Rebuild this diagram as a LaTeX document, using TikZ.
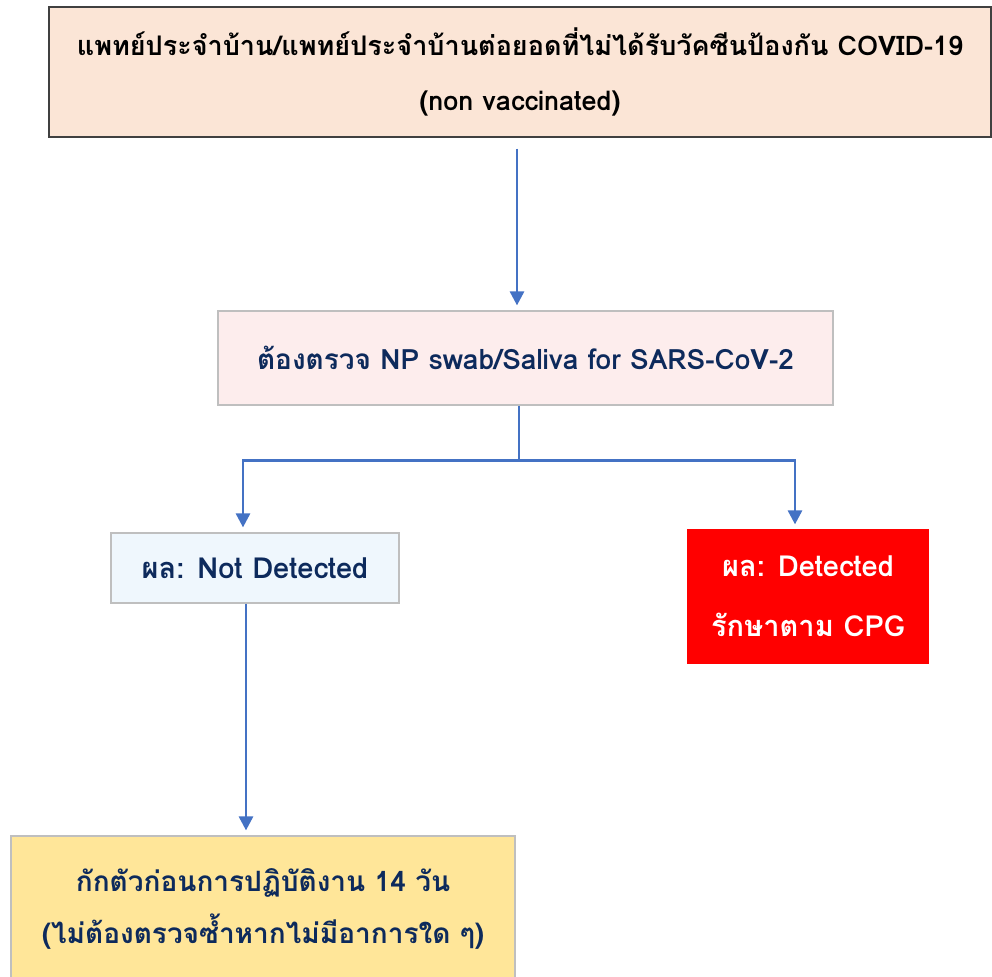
\documentclass[tikz,border=0pt]{standalone}
\usepackage{fontspec}
\setmainfont[Script=Thai]{Loma}
\usetikzlibrary{arrows.meta,calc}
\definecolor{peach}{HTML}{FBE5D6}
\definecolor{pinkbg}{HTML}{FDEDED}
\definecolor{bluebg}{HTML}{EFF7FD}
\definecolor{goldbg}{HTML}{FFE699}
\definecolor{navy}{HTML}{0D2A5C}
\definecolor{conncol}{HTML}{4472C4}
\definecolor{boxline}{HTML}{BFBFBF}
\begin{document}
\begin{tikzpicture}[x=1pt,y=-1pt,
  box/.style={draw=boxline,line width=1.2pt,rectangle,inner sep=0pt,align=center,text=navy,font=\fontsize{28}{52}\selectfont\bfseries},
  conn/.style={draw=conncol,line width=2.8pt},
  arr/.style={conn,-{Triangle[width=14pt,length=14pt]},shorten >=5pt}]
\useasboundingbox (0,0) rectangle (992,976);
\node[box,draw=black!75,line width=1.5pt,fill=peach,text=black,minimum width=942pt,minimum height=130pt,
  font=\fontsize{27}{55}\selectfont\bfseries] (top) at (520,72)
  {แพทย์ประจำบ้าน/แพทย์ประจำบ้านต่อยอดที่ไม่ได้รับวัคซีนป้องกัน COVID-19\\(non vaccinated)};
\node[box,fill=pinkbg,minimum width=615pt,minimum height=94pt] (b2) at (525.5,358)
  {ต้องตรวจ NP swab/Saliva for SARS-CoV-2};
\node[box,fill=bluebg,minimum width=288pt,minimum height=70pt,font=\fontsize{29}{52}\selectfont\bfseries] (b3) at (255,568)
  {ผล: Not Detected};
\node[box,draw=red,fill=red,text=white,minimum width=240pt,minimum height=133pt,
  font=\fontsize{29}{60}\selectfont\bfseries] (b4) at (808,596.5)
  {ผล: Detected\\รักษาตาม CPG};
\node[box,fill=goldbg,minimum width=504pt,minimum height=146pt] (b5) at (263,909)
  {กักตัวก่อนการปฏิบัติงาน 14 วัน\\(ไม่ต้องตรวจซ้ำหากไม่มีอาการใด ๆ)};
\draw[arr,shorten <=11pt] ([xshift=-3pt]top.south) -- ([xshift=-8.5pt]b2.north);
\draw[conn] ([xshift=-6.5pt]b2.south) -- ++(0,55) coordinate (j);
\draw[arr] (j) -| ([xshift=-12pt]b3.north);
\draw[arr] (j) -| ([xshift=-13pt]b4.north);
\draw[arr] ([xshift=-9pt]b3.south) -- ([xshift=-17pt]b5.north);
\end{tikzpicture}
\end{document}
